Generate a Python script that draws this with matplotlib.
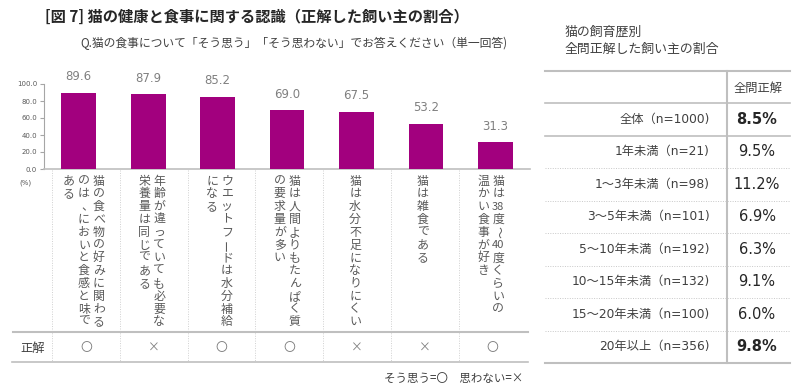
import matplotlib
matplotlib.use("Agg")
import matplotlib.pyplot as plt

plt.rcParams['font.family'] = ['DejaVu Sans', 'Noto Sans CJK JP']

# ---------------- data ----------------
title = "[図 7] 猫の健康と食事に関する認識（正解した飼い主の割合）"
subtitle = "Q.猫の食事について「そう思う」「そう思わない」でお答えください（単一回答)"
categories = [
    "猫の食べ物の好みに関わる\nのは、においと食感と味で\nある",
    "年齢が違っていても必要な\n栄養量は同じである",
    "ウエットフードは水分補給\nになる",
    "猫は人間よりもたんぱく質\nの要求量が多い",
    "猫は水分不足になりにくい",
    "猫は雑食である",
    "猫は38度～40度くらいの\n温かい食事が好き",
]
values = [89.6, 87.9, 85.2, 69.0, 67.5, 53.2, 31.3]
answers = ["〇", "×", "〇", "〇", "×", "×", "〇"]
yticks = [0, 20, 40, 60, 80, 100]
legend_text = "そう思う=〇　思わない=×"
row_label = "正解"

panel_title = "猫の飼育歴別\n全問正解した飼い主の割合"
table_header = "全問正解"
table_labels = ["全体（n=1000)", "1年未満（n=21)", "1～3年未満（n=98)", "3～5年未満（n=101)",
                "5～10年未満（n=192)", "10～15年未満（n=132)", "15～20年未満（n=100)",
                "20年以上（n=356)"]
table_values = [8.5, 9.5, 11.2, 6.9, 6.3, 9.1, 6.0, 9.8]
table_bold = [True, False, False, False, False, False, False, True]

# ---------------- style ----------------
W, H = 800, 390
BAR = "#A2007E"
GRAY_TXT = "#595959"
LINE = "#BFBFBF"
CJK = ['Noto Sans CJK JP', 'DejaVu Sans']

fig = plt.figure(figsize=(W / 100, H / 100), dpi=100)

def frac(x0, y0, x1, y1):
    return [x0 / W, 1 - y1 / H, (x1 - x0) / W, (y1 - y0) / H]

# overlay in pixel coordinates for texts / table lines
ov = fig.add_axes([0, 0, 1, 1])
ov.set_xlim(0, W)
ov.set_ylim(H, 0)
ov.axis('off')

# ---------------- bar chart ----------------
ax = fig.add_axes(frac(44, 84, 530, 169))
x = list(range(len(values)))
bars = ax.bar(x, values, width=0.5, color=BAR, zorder=3)
ax.set_xlim(-0.5, len(values) - 0.5)
ax.set_ylim(0, 100)
ax.set_yticks(yticks)
ax.set_yticklabels([f"{v:.1f}" for v in yticks])
ax.set_xticks([])
ax.tick_params(axis='y', length=3, width=0.8, color="#A6A6A6", labelsize=5,
               labelcolor=GRAY_TXT, pad=2)
for s in ['top', 'right']:
    ax.spines[s].set_visible(False)
ax.spines['left'].set_color("#A6A6A6")
ax.spines['left'].set_linewidth(0.8)
ax.spines['bottom'].set_color("#BFBFBF")
ax.spines['bottom'].set_linewidth(1.2)
ax.patch.set_alpha(0)
ax.bar_label(bars, labels=[f"{v:.1f}" for v in values], padding=7, fontsize=8.5,
             color="#808080")

ov.text(25, 183, "(%)", fontsize=5, color=GRAY_TXT, ha='center', va='center')

# ---------------- titles ----------------
ov.text(45, 17, title, fontsize=11, fontweight='bold', color="#262626",
        ha='left', va='center', family=CJK)
ov.text(80, 43, subtitle, fontsize=8.5, color="#404040", ha='left', va='center',
        family=CJK)

# ---------------- category cells / vertical labels ----------------
cell_x0, cell_w = 52, 67.8
n = len(categories)
for k in range(n):
    xd = cell_x0 + cell_w * k
    ov.plot([xd, xd], [170, 362], color="#D0D0D0", lw=0.7, ls=(0, (1, 1.5)))

def tokens(s):
    out = []
    for ch in s:
        if ch.isdigit() and out and out[-1].isdigit():
            out[-1] += ch
        else:
            out.append(ch)
    return out

pitch = 12.8
colgap = 15
for i, cat in enumerate(categories):
    cx = cell_x0 + cell_w * (i + 0.5) - 2
    cols = cat.split("\n")
    nc = len(cols)
    for c, col in enumerate(cols):
        colx = cx + (nc - 1) / 2 * colgap - c * colgap
        for j, tok in enumerate(tokens(col)):
            yy = 181 + pitch * j
            xx = colx
            rot = 0
            fs = 8.6
            if tok == "ー":
                rot = 90
            elif tok == "～":
                rot = -90
            elif tok in "、。":
                xx += 3
            if tok.isdigit():
                fs = 8.0
            ov.text(xx, yy, tok, fontsize=fs, color=GRAY_TXT, ha='center',
                    va='center', rotation=rot, family=CJK)

# table lines under chart
ov.plot([13, 528], [332, 332], color=LINE, lw=1.5)
ov.plot([12, 528], [362, 362], color=LINE, lw=1.2)
ov.text(33, 348, row_label, fontsize=8.8, color="#404040", ha='center', va='center',
        family=CJK)
for i, a in enumerate(answers):
    cx = cell_x0 + cell_w * (i + 0.5)
    ov.text(cx, 348, a, fontsize=8.5, color="#7F7F7F", ha='center', va='center',
            family=CJK)
ov.text(523, 378, legend_text, fontsize=8.3, color="#404040", ha='right',
        va='center', family=CJK)

# ---------------- right table ----------------
ov.text(565, 41, panel_title, fontsize=9.3, color="#404040", ha='left', va='center',
        linespacing=1.45, family=CJK)
tl, tr, tv = 545, 790, 727
ov.plot([tl, tr], [71, 71], color=LINE, lw=1.5)
ov.plot([tl, tr], [103, 103], color=LINE, lw=1.2)
ov.plot([tv, tv], [71, 363], color=LINE, lw=1.5)
ov.text(758, 88, table_header, fontsize=8.8, color="#404040", ha='center', va='center',
        family=CJK)
row_top, row_h = 103, 32.5
for r, (lab, v, b) in enumerate(zip(table_labels, table_values, table_bold)):
    yc = row_top + row_h * (r + 0.5)
    ov.text(710, yc, lab, fontsize=8.8, color="#404040", ha='right', va='center')
    ov.text(757, yc, f"{v:.1f}%", fontsize=10.5, color="#262626", ha='center',
            va='center', fontweight='bold' if b else 'normal')
    yl = row_top + row_h * (r + 1)
    if r == 0:
        ov.plot([tl, tr], [yl, yl], color=LINE, lw=1.2)
    elif r == len(table_labels) - 1:
        ov.plot([tl, tr], [yl, yl], color=LINE, lw=1.5)
    else:
        ov.plot([tl, tr], [yl, yl], color="#C8C8C8", lw=0.7, ls=(0, (1, 1.5)))

fig.savefig("out.png", dpi=100)
